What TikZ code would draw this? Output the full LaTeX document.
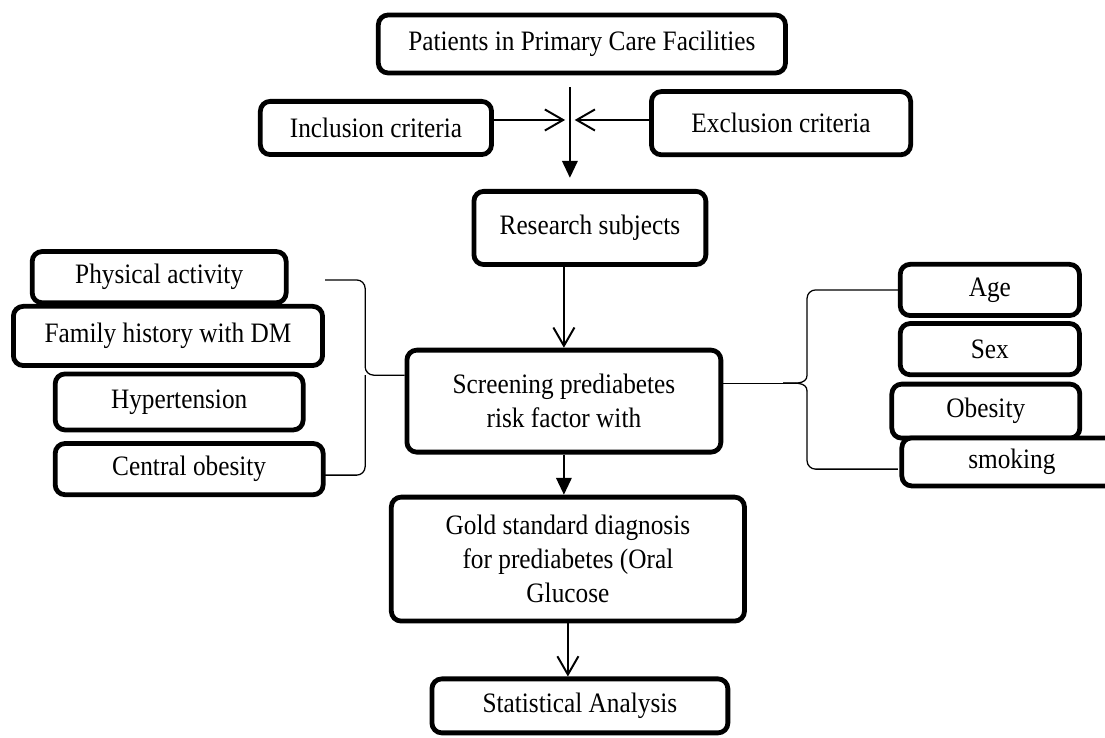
\documentclass[tikz,border=0pt]{standalone}
\usepackage{fontspec}
\setmainfont{Liberation Serif}[FakeStretch=0.9]
\usetikzlibrary{arrows.meta}

\begin{document}
\begin{tikzpicture}[
	font=\fontsize{20}{24}\selectfont,
	box/.style={
		rectangle, rounded corners=7pt,
		draw=black, line width=3.4pt, fill=white,
		align=center, inner sep=2pt
	},
	arr/.style={-{Straight Barb[length=13pt, width=15pt]}, line width=1.4pt},
	farr/.style={-{Triangle[length=12pt, width=11pt]}, line width=1.4pt},
	brace/.style={line width=0.9pt, rounded corners=6pt}
]
\useasboundingbox (0,0) rectangle (27.63,-18.45);

% Intake
\node[box, minimum width=10.18cm, minimum height=1.45cm] (patients) at (14.55, -1.10) {Patients in Primary Care Facilities};
\node[box, minimum width=5.78cm, minimum height=1.33cm] (incl) at (9.40, -3.20) {Inclusion criteria};
\node[box, minimum width=6.48cm, minimum height=1.58cm] (excl) at (19.53, -3.08) {Exclusion criteria};
\node[box, minimum width=5.80cm, minimum height=1.83cm] (subj) at (14.75, -5.70) {Research subjects};

\coordinate (jtop) at (14.25, -2.18);
\coordinate (jmid) at (14.25, -3.00);

\draw[line width=1.4pt] (jtop) -- (jmid);
\draw[farr, shorten >=0.28cm] (jmid) -- (jtop |- subj.north);
\draw[arr, shorten >=0.12cm] (jmid -| incl.east) -- (jmid);
\draw[arr, shorten >=0.12cm] (jmid -| excl.west) -- (jmid);

% Spine
\node[box, minimum width=7.85cm, minimum height=2.55cm] (screen) at (14.10, -10.03) {Screening prediabetes\\risk factor with};
\node[box, minimum width=8.83cm, minimum height=3.10cm] (gold) at (14.20, -13.98) {Gold standard diagnosis\\for prediabetes (Oral\\Glucose};
\node[box, minimum width=7.40cm, minimum height=1.35cm] (stats) at (14.50, -17.65) {Statistical Analysis};

\draw[arr] (subj.south -| screen.north) -- (screen.north);
\draw[farr] (screen.south) -- (screen.south |- gold.north);
\draw[arr] (gold.south) -- (gold.south |- stats.north);

% Left risk factors
\node[box, minimum width=6.35cm, minimum height=1.28cm] (phys) at (3.98, -6.93) {Physical activity};
\node[box, minimum width=7.73cm, minimum height=1.48cm] (famhist) at (4.20, -8.40) {Family history with DM};
\node[box, minimum width=6.20cm, minimum height=1.40cm] (hyper) at (4.48, -10.05) {Hypertension};
\node[box, minimum width=6.70cm, minimum height=1.28cm] (central) at (4.73, -11.73) {Central obesity};

\coordinate (lbtop) at (8.13, -7.00);
\coordinate (lbbot) at (8.13, -11.88);
\coordinate (lcusp) at (9.13, -9.38);

\draw[brace] (lbtop) -| (lcusp) -- (lcusp -| screen.west);
\draw[brace] (lbbot) -| (lcusp);

% Right risk factors
\node[box, minimum width=4.48cm, minimum height=1.28cm] (age) at (24.75, -7.25) {Age};
\node[box, minimum width=4.48cm, minimum height=1.28cm] (sex) at (24.75, -8.73) {Sex};
\node[box, minimum width=4.70cm, minimum height=1.35cm] (obes) at (24.65, -10.28) {Obesity};
\node[box, minimum width=5.50cm, minimum height=1.20cm] (smoke) at (25.30, -11.55) {smoking};

\coordinate (rbbot) at (22.45, -11.73);
\coordinate (rbup)  at (20.18, -9.38);
\coordinate (rbdn)  at (20.18, -9.78);
\coordinate (rcusp) at (19.58, -9.58);

\draw[brace] (age.west) -| (rbup);
\draw[line width=0.9pt] (rbup) to[out=-90, in=0] (rcusp);
\draw[brace] (rbbot) -| (rbdn);
\draw[line width=0.9pt] (rbdn) to[out=90, in=0] (rcusp);
\draw[line width=0.9pt] (rcusp -| screen.east) -- (rcusp);

\end{tikzpicture}
\end{document}
